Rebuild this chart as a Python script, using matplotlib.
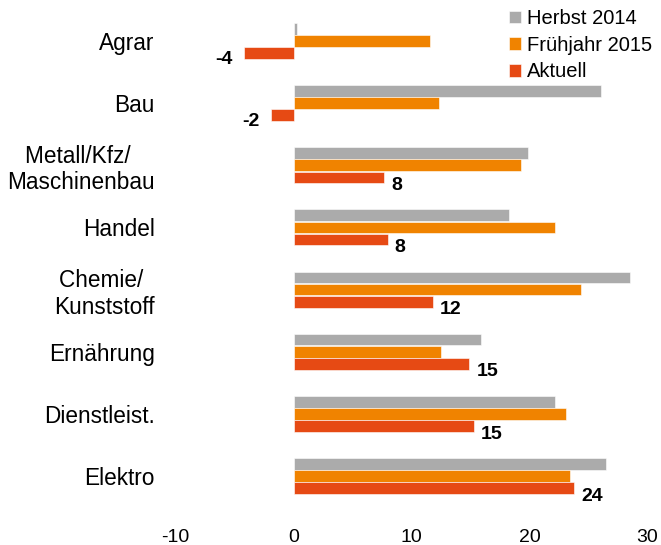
import numpy as np
import matplotlib
matplotlib.use("Agg")
import matplotlib.pyplot as plt

plt.rcParams["font.family"] = ["Liberation Sans", "DejaVu Sans"]
plt.rcParams["axes.unicode_minus"] = False

categories = ["Agrar", "Bau", "Metall/Kfz/ \nMaschinenbau", "Handel",
              "Chemie/ \nKunststoff", "Ernährung", "Dienstleist.", "Elektro"]
herbst_2014 = [0.3, 26.1, 19.9, 18.3, 28.5, 15.9, 22.2, 26.5]
fruehjahr_2015 = [11.6, 12.3, 19.3, 22.2, 24.4, 12.5, 23.1, 23.4]
aktuell = [-4.2, -1.9, 7.7, 8.0, 11.8, 14.9, 15.3, 23.8]
aktuell_labels = ["-4", "-2", "8", "8", "12", "15", "15", "24"]

series = [
    ("Herbst 2014", herbst_2014, "#ababab"),
    ("Frühjahr 2015", fruehjahr_2015, "#f08300"),
    ("Aktuell", aktuell, "#e64a14"),
]

fig = plt.figure(figsize=(6.61, 5.45), dpi=100)
ax = fig.add_axes([175.5 / 661, 1 - 507 / 545, 472 / 661, 497 / 545])

y = np.arange(len(categories))
h = 0.19
for i, (name, vals, color) in enumerate(series):
    ax.barh(y + (i - 1) * 0.195, vals, height=h, color=color,
            edgecolor="white", linewidth=0.4, label=name)

for yi, v, txt in zip(y, aktuell, aktuell_labels):
    if v < 0:
        ax.annotate(txt, (v, yi + 0.195 + 0.1), xytext=(-8, 0),
                    textcoords="offset points", ha="right", va="center",
                    fontsize=14, fontweight="bold")
    else:
        ax.annotate(txt, (v, yi + 0.195 + 0.13), xytext=(5, 0),
                    textcoords="offset points", ha="left", va="center",
                    fontsize=14, fontweight="bold")

ax.set_xlim(-10, 30)
ax.set_ylim(7.5, -0.5)
ax.set_xticks([-10, 0, 10, 20, 30])
ax.set_yticks(y)
ax.set_yticklabels(categories, fontsize=16.3)
for lbl in ax.get_yticklabels():
    lbl.set_multialignment("center")
ax.tick_params(axis="y", length=0, pad=15)
ax.tick_params(axis="x", length=0, pad=16, labelsize=14)
for s in ax.spines.values():
    s.set_visible(False)

ax.legend(loc="upper right", bbox_to_anchor=(1.04, 1.03), frameon=False,
          fontsize=14.5, handlelength=0.6, handleheight=0.6,
          handletextpad=0.3, labelspacing=0.38, borderpad=0.2)

fig.savefig("out.png", dpi=100)
